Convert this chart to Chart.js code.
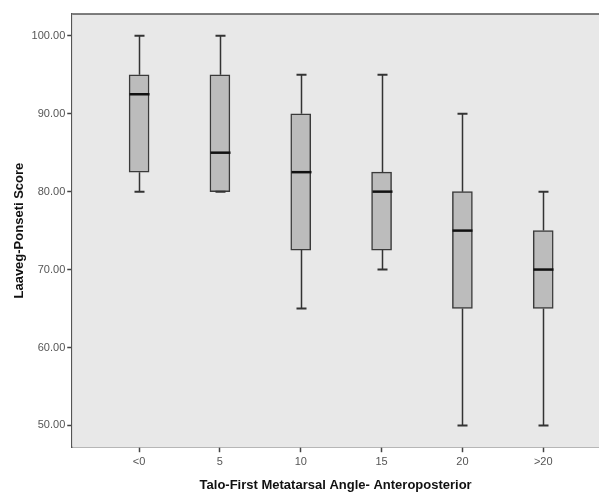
<!DOCTYPE html>
<html>
<head>
<meta charset="utf-8">
<script src="https://cdn.jsdelivr.net/npm/chart.js@4"></script>
<style>
  html, body { margin: 0; padding: 0; background: #fff; overflow: hidden; }
  #wrap { width: 599px; height: 493px; }
</style>
</head>
<body>
<div id="wrap"><canvas id="boxChart"></canvas></div>
<script>
// categories and box plot values
const categories = ["<0", "5", "10", "15", "20", ">20"];
const whiskerLow = [80, 80, 65, 70, 50, 50];
const q1 = [82.5, 80, 72.5, 72.5, 65, 65];
const median = [92.5, 85, 82.5, 80, 75, 70];
const q3 = [95, 95, 90, 82.5, 80, 75];
const whiskerHigh = [100, 100, 95, 95, 90, 80];
const yTicks = [50, 60, 70, 80, 90, 100];

const boxData = categories.map(function (c, i) {
  return { x: i, y: [q1[i], q3[i]] };
});

// plot background and frame
const frame = {
  id: "frame",
  beforeDatasetsDraw(chart) {
    const a = chart.chartArea, ctx = chart.ctx;
    ctx.save();
    ctx.fillStyle = "#e8e8e8";
    ctx.fillRect(a.left, a.top, a.right - a.left + 20, a.bottom - a.top);
    ctx.strokeStyle = "#555";
    ctx.lineWidth = 1.5;
    ctx.beginPath();
    ctx.moveTo(a.left, a.top);
    ctx.lineTo(a.right + 20, a.top);
    ctx.stroke();
    ctx.restore();
  }
};

// whiskers, caps and median lines
const whiskers = {
  id: "whiskers",
  afterDatasetsDraw(chart) {
    const xs = chart.scales.x, ys = chart.scales.y, ctx = chart.ctx;
    ctx.save();
    ctx.strokeStyle = "#333";
    for (let i = 0; i < categories.length; i++) {
      const cx = Math.round(xs.getPixelForValue(i)) + 0.5;
      const half = 10, cap = 5;
      ctx.lineWidth = 1.5;
      ctx.beginPath();
      ctx.moveTo(cx, ys.getPixelForValue(q3[i]));
      ctx.lineTo(cx, ys.getPixelForValue(whiskerHigh[i]));
      ctx.moveTo(cx, ys.getPixelForValue(q1[i]));
      ctx.lineTo(cx, ys.getPixelForValue(whiskerLow[i]));
      ctx.stroke();
      ctx.lineWidth = 2;
      ctx.beginPath();
      ctx.moveTo(cx - cap, ys.getPixelForValue(whiskerHigh[i]));
      ctx.lineTo(cx + cap, ys.getPixelForValue(whiskerHigh[i]));
      ctx.moveTo(cx - cap, ys.getPixelForValue(whiskerLow[i]));
      ctx.lineTo(cx + cap, ys.getPixelForValue(whiskerLow[i]));
      ctx.stroke();
      ctx.strokeStyle = "#111";
      ctx.lineWidth = 2.5;
      ctx.beginPath();
      ctx.moveTo(cx - half, ys.getPixelForValue(median[i]));
      ctx.lineTo(cx + half, ys.getPixelForValue(median[i]));
      ctx.stroke();
      ctx.strokeStyle = "#333";
    }
    ctx.restore();
  }
};

new Chart(document.getElementById("boxChart"), {
  type: "bar",
  data: {
    datasets: [{
      data: boxData,
      backgroundColor: "#bcbcbc",
      borderColor: "#3a3a3a",
      borderWidth: 1.5,
      borderSkipped: false,
      barThickness: 20
    }]
  },
  plugins: [frame, whiskers],
  options: {
    responsive: true,
    maintainAspectRatio: false,
    animation: false,
    layout: { padding: { top: 14, left: 0, right: 0, bottom: 0 } },
    plugins: { legend: { display: false }, tooltip: { enabled: false } },
    scales: {
      x: {
        type: "linear",
        offset: false,
        min: -0.827,
        max: 5.69,
        afterBuildTicks(scale) {
          scale.ticks = categories.map(function (c, i) { return { value: i }; });
        },
        ticks: {
          callback: function (v) { return categories[v]; },
          color: "#555",
          font: { family: "Liberation Sans", size: 11 },
          padding: 3,
          maxRotation: 0
        },
        grid: { offset: false, drawOnChartArea: false, drawTicks: true, tickLength: 5, tickColor: "#444", tickWidth: 1.5 },
        border: { display: true, color: "#555", width: 1.5 },
        title: {
          display: true,
          text: "Talo-First Metatarsal Angle- Anteroposterior",
          color: "#111",
          font: { family: "Liberation Sans", size: 13, weight: "bold" },
          padding: { top: 6, bottom: 0 }
        }
      },
      y: {
        min: 47.2,
        max: 102.8,
        afterBuildTicks(scale) {
          scale.ticks = yTicks.map(function (v) { return { value: v }; });
        },
        ticks: {
          callback: function (v) { return v.toFixed(2); },
          color: "#555",
          font: { family: "Liberation Sans", size: 11 },
          padding: 2
        },
        grid: { drawOnChartArea: false, drawTicks: true, tickLength: 5, tickColor: "#444", tickWidth: 1.5 },
        border: { display: true, color: "#555", width: 1.5 },
        title: {
          display: true,
          text: "Laaveg-Ponseti Score",
          color: "#111",
          font: { family: "Liberation Sans", size: 13, weight: "bold" },
          padding: { top: 12, bottom: 2 }
        }
      }
    }
  }
});
</script>
</body>
</html>
